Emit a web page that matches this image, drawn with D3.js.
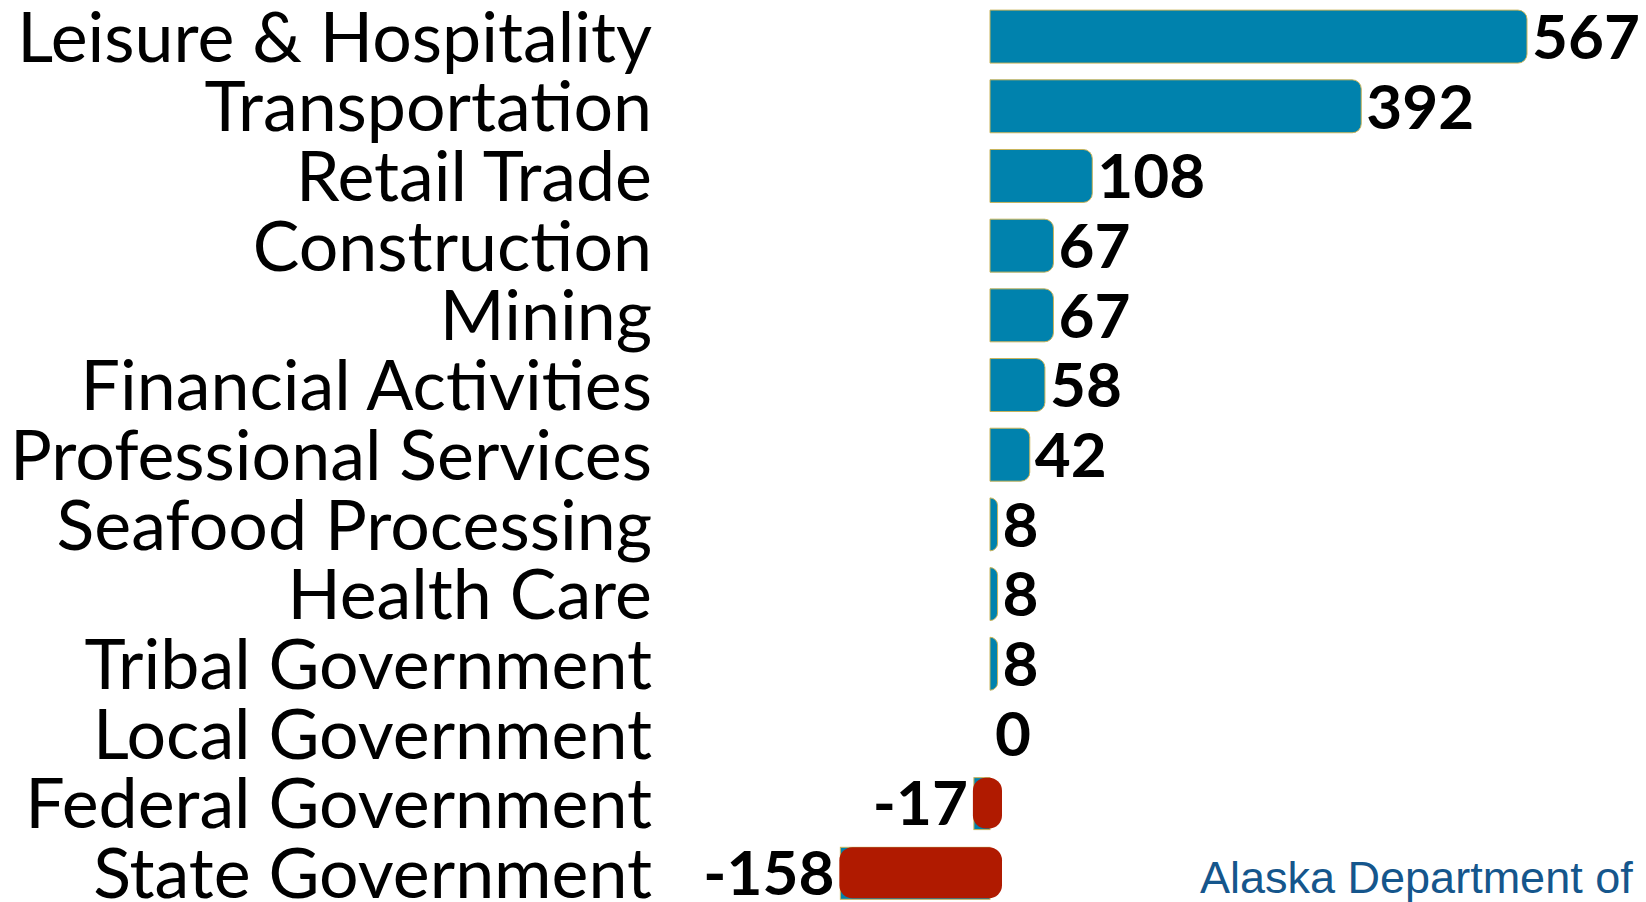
<!DOCTYPE html>
<html><head><meta charset="utf-8">
<script src="https://cdn.jsdelivr.net/npm/d3@7"></script>
<style>body{margin:0;background:#fff;} svg{display:block;}</style>
</head><body>
<script>
const categories = ["Leisure & Hospitality","Transportation","Retail Trade","Construction","Mining","Financial Activities","Professional Services","Seafood Processing","Health Care","Tribal Government","Local Government","Federal Government","State Government"];
const values = [567,392,108,67,67,58,42,8,8,8,0,-17,-158];
const sourceText = "Alaska Department of";

const W = 1646, H = 902;
const svg = d3.select("body").append("svg").attr("width", W).attr("height", H);

const x = d3.scaleLinear().domain([0, 567]).range([990, 1527]);
const y = d3.scaleBand().domain(categories).range([-6.6, 916]).paddingInner(0.24).paddingOuter(0.24);

const blue = "#0082ad", red = "#b01a00", gold = "#c9b45a";
const data = categories.map((c, i) => ({c, v: values[i]}));

function rightRounded(x0, x1, y0, h, r) {
  const w = x1 - x0;
  r = Math.min(r, w, h / 2);
  return `M${x0},${y0}H${x1 - r}A${r},${r} 0 0 1 ${x1},${y0 + r}V${y0 + h - r}A${r},${r} 0 0 1 ${x1 - r},${y0 + h}H${x0}Z`;
}

const g = svg.append("g");
// positive bars
g.selectAll("path.pos").data(data.filter(d => d.v > 0)).join("path")
  .attr("class", "pos")
  .attr("d", d => rightRounded(x(0), x(d.v), y(d.c), y.bandwidth(), 9))
  .attr("fill", blue).attr("stroke", gold).attr("stroke-width", 1);

// negative bars: blue base and red rounded overlay
const neg = data.filter(d => d.v < 0);
g.selectAll("rect.negbase").data(neg).join("rect")
  .attr("x", d => x(d.v)).attr("width", d => x(0) - x(d.v))
  .attr("y", d => y(d.c) + 1).attr("height", y.bandwidth() - 1)
  .attr("fill", blue).attr("stroke", gold).attr("stroke-width", 1);
g.selectAll("rect.neg").data(neg).join("rect")
  .attr("x", d => x(d.v) - 1).attr("width", d => x(0) - x(d.v) + 13)
  .attr("y", d => y(d.c) + 1).attr("height", y.bandwidth() - 2)
  .attr("rx", 13).attr("ry", 13)
  .attr("fill", red);

// category labels
const labels = svg.append("g").selectAll("text").data(data).join("text")
  .attr("x", 652).attr("y", d => y(d.c) + y.bandwidth() / 2)
  .attr("dy", "0.36em").attr("text-anchor", "end")
  .attr("font-family", "Lato, 'Open Sans', sans-serif")
  .attr("font-size", 60).attr("fill", "#000")
  .text(d => d.c);
// fit font size to reference width
let maxW = 0;
labels.each(function () { maxW = Math.max(maxW, this.getComputedTextLength()); });
labels.attr("font-size", 60 * 642 / maxW);

// value labels
svg.append("g").selectAll("text").data(data).join("text")
  .attr("x", d => d.v < 0 ? x(d.v) - 6 : x(d.v) + 5)
  .attr("y", d => y(d.c) + y.bandwidth() / 2)
  .attr("dy", "0.36em")
  .attr("text-anchor", d => d.v < 0 ? "end" : "start")
  .attr("font-family", "Lato, 'Open Sans', sans-serif")
  .attr("font-weight", 700)
  .attr("font-size", 62).attr("fill", "#000")
  .text(d => d.v);

// source
svg.append("text").attr("x", 1200).attr("y", 893)
  .attr("font-family", "'Liberation Sans', Arial, sans-serif")
  .attr("font-size", 45).attr("fill", "#15568c")
  .text(sourceText);
</script>
</body></html>
